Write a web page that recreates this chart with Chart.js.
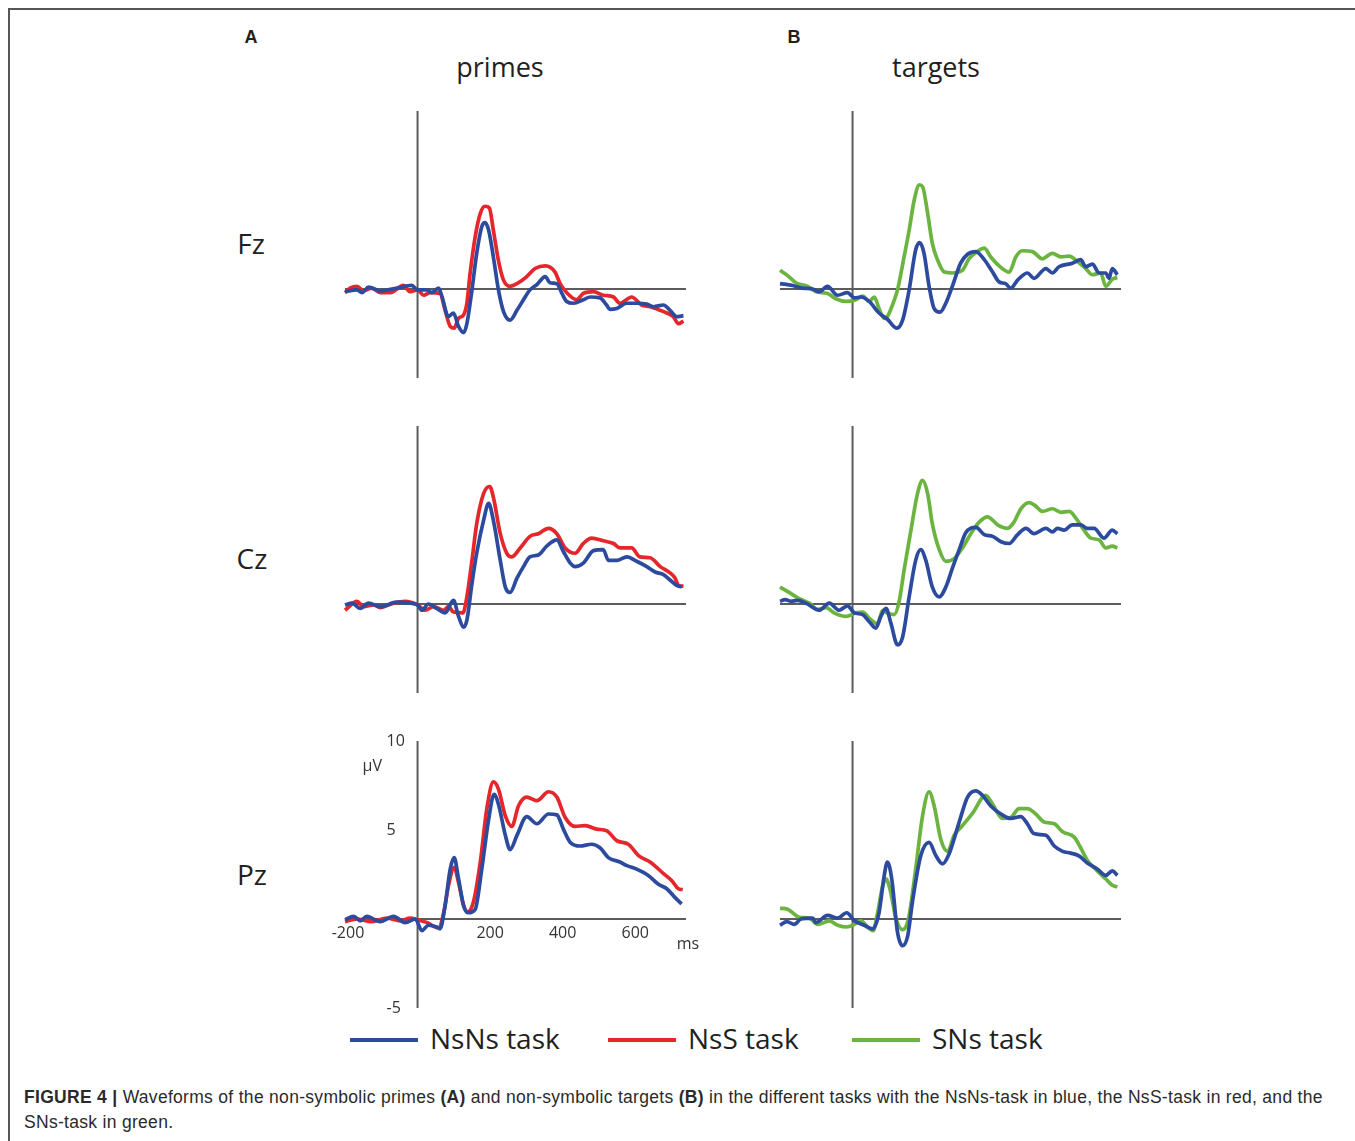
<!DOCTYPE html>
<html lang="en">
<head>
  <meta charset="UTF-8" />
  <title>Figure 4 - waveforms</title>
  <script src="https://cdn.jsdelivr.net/npm/chart.js"></script>
  <style>
    body { margin: 0; background: #fff; width: 1355px; height: 1141px; position: relative; overflow: hidden; font-family: 'Open Sans', 'Noto Sans', sans-serif; color: #231f20; }
    .frame { position: absolute; left: 8px; top: 8px; width: 1400px; height: 1200px; border-top: 2px solid #555; border-left: 2px solid #555; }
    .lbl { position: absolute; transform: translate(-50%, -50%); white-space: nowrap; }
    .panel-letter { font-family: 'Liberation Sans', Arial, sans-serif; font-weight: bold; font-size: 18px; }
    .col-title { font-size: 27px; }
    .row-title { font-size: 28px; }
    canvas { position: absolute; }
    .legend { position: absolute; top: 1018px; left: 0; font-size: 28px; }
    .legend .item { position: absolute; top: 0; white-space: nowrap; height: 40px; line-height: 40px; }
    .legend .swatch { position: absolute; top: 20px; width: 68px; height: 3.5px; }
    .legend .txt { position: absolute; left: 80px; top: 0; }
    .caption { position: absolute; left: 24px; top: 1085px; font-family: 'Liberation Sans', Arial, sans-serif; font-size: 17.5px; line-height: 25px; color: #2a2a2a; white-space: nowrap; letter-spacing: 0.3px; }
  </style>
</head>
<body>
  <div class="frame"></div>

  <div class="lbl panel-letter" style="left:251px; top:37px;">A</div>
  <div class="lbl panel-letter" style="left:794px; top:37px;">B</div>
  <div class="lbl col-title" style="left:500px; top:66px;">primes</div>
  <div class="lbl col-title" style="left:936px; top:66px;">targets</div>
  <div class="lbl row-title" style="left:251px; top:243px;">Fz</div>
  <div class="lbl row-title" style="left:252px; top:558px;">Cz</div>
  <div class="lbl row-title" style="left:252px; top:874px;">Pz</div>

  <canvas id="fz-primes" width="381" height="287" style="left:325px; top:101px;"></canvas>
  <canvas id="fz-targets" width="381" height="287" style="left:760px; top:101px;"></canvas>
  <canvas id="cz-primes" width="381" height="287" style="left:325px; top:416px;"></canvas>
  <canvas id="cz-targets" width="381" height="287" style="left:760px; top:416px;"></canvas>
  <canvas id="pz-primes" width="381" height="287" style="left:325px; top:731px;"></canvas>
  <canvas id="pz-targets" width="381" height="287" style="left:760px; top:731px;"></canvas>

  <div class="legend" id="legend"></div>

  <div class="caption">
    <b>FIGURE 4 |</b> Waveforms of the non-symbolic primes <b>(A)</b> and non-symbolic targets <b>(B)</b> in the different tasks with the NsNs-task in blue, the NsS-task in red, and the<br>SNs-task in green.
  </div>

  <script>
    // [ms, µV] pairs
    const fzPrimesNsNs = [[-200,-0.15],[-167,-0.05],[-153,-0.2],[-135,0.1],[-103,-0.1],[-57,0.05],[-16,0.2],[0,-0.05],[26,-0.05],[39,-0.2],[58,0.05],[67,-0.4],[85,-1.55],[99,-1.35],[113,-2.1],[127,-2.45],[136,-1.95],[150,-0.05],[163,2.0],[177,3.5],[186,3.73],[196,3.3],[209,1.8],[223,-0.05],[237,-1.27],[255,-1.75],[274,-1.2],[292,-0.6],[310,-0.05],[329,0.25],[352,0.7],[365,0.35],[384,0.3],[398,-0.25],[411,-0.7],[430,-0.8],[457,-0.6],[476,-0.45],[503,-0.5],[521,-0.9],[530,-1.15],[549,-1.1],[577,-0.8],[604,-0.8],[632,-0.85],[650,-1.0],[678,-0.9],[696,-1.2],[714,-1.55],[733,-1.5]];
    const fzPrimesNsS = [[-200,-0.2],[-186,0.05],[-167,0.15],[-149,-0.1],[-126,0.05],[-103,-0.2],[-75,-0.2],[-39,0.2],[-20,-0.15],[0,-0.05],[17,-0.35],[35,-0.2],[62,-0.25],[76,-1.2],[90,-2.1],[101,-2.2],[113,-1.65],[127,-1.45],[136,-0.8],[145,0.9],[159,2.95],[173,4.25],[186,4.65],[198,4.55],[209,3.3],[223,1.6],[237,0.5],[255,0.15],[274,0.3],[301,0.7],[324,1.15],[352,1.3],[379,0.95],[393,0.3],[411,-0.2],[439,-0.6],[457,-0.25],[485,-0.15],[512,-0.35],[540,-0.45],[558,-0.8],[590,-0.45],[618,-0.9],[641,-1.0],[669,-1.2],[687,-1.35],[705,-1.55],[719,-1.95],[733,-1.8]];
    const fzTargetsNsNs = [[-200,0.3],[-165,0.2],[-138,0.05],[-110,0],[-92,-0.15],[-69,0.15],[-41,-0.35],[-14,-0.2],[5,-0.5],[23,-0.45],[46,-0.7],[73,-1.35],[96,-1.7],[122,-2.2],[138,-1.75],[156,-0.05],[174,2.2],[185,2.6],[197,2.0],[211,0.15],[225,-1.1],[241,-1.3],[257,-0.8],[275,0.15],[298,1.45],[317,1.95],[340,2.1],[363,1.65],[386,0.95],[404,0.4],[422,0.3],[436,0.05],[455,0.5],[482,0.9],[500,0.6],[533,1.15],[551,0.9],[569,1.25],[606,1.45],[629,1.65],[643,1.25],[661,1.4],[680,0.9],[698,0.9],[707,0.6],[716,1.15],[730,0.8]];
    const fzTargetsSNs = [[-200,1.05],[-179,0.75],[-156,0.35],[-124,0.15],[-101,-0.15],[-69,-0.25],[-46,-0.55],[-18,-0.7],[9,-0.6],[28,-0.4],[46,-0.7],[60,-0.45],[73,-1.1],[87,-1.65],[96,-1.55],[110,-0.9],[124,-0.05],[142,1.8],[156,3.3],[170,5.0],[184,5.85],[193,5.75],[207,4.25],[220,2.55],[234,1.65],[253,0.95],[275,0.9],[303,1.05],[321,1.7],[340,2.05],[363,2.3],[381,1.8],[404,1.3],[432,0.95],[450,1.8],[468,2.15],[496,2.1],[523,1.7],[551,2.0],[574,1.8],[597,1.85],[620,1.55],[643,1.15],[661,0.8],[684,0.9],[698,0.15],[716,0.55],[730,0.65]];

    const czPrimesNsNs = [[-200,-0.05],[-181,0.05],[-158,-0.25],[-135,0.05],[-103,-0.15],[-57,0.1],[-20,0.05],[0,-0.05],[12,-0.35],[30,0],[53,-0.25],[76,-0.5],[99,0.2],[113,-0.7],[127,-1.3],[136,-0.9],[150,1.15],[163,2.85],[182,4.7],[196,5.65],[209,4.7],[228,2.45],[242,0.95],[255,0.65],[274,1.45],[292,2.1],[310,2.65],[333,2.75],[356,3.25],[384,3.6],[402,2.95],[421,2.3],[434,2.1],[457,2.3],[485,3.0],[512,3.05],[526,2.45],[549,2.45],[577,2.65],[604,2.4],[632,2.1],[655,1.8],[678,1.65],[696,1.35],[714,1.05],[728,0.95]];
    const czPrimesNsS = [[-200,-0.35],[-167,0.15],[-149,-0.15],[-121,-0.05],[-103,-0.2],[-66,0.05],[-34,0.15],[0,-0.05],[21,-0.35],[44,-0.15],[72,-0.35],[85,-0.15],[99,-0.45],[125,-0.5],[136,0.4],[150,2.45],[163,4.5],[182,6.2],[199,6.6],[209,6.0],[228,3.95],[246,2.85],[260,2.65],[283,3.15],[310,3.8],[333,3.95],[361,4.25],[384,3.95],[407,3.15],[434,2.85],[457,3.4],[480,3.7],[512,3.55],[540,3.4],[558,3.15],[590,3.15],[613,2.65],[641,2.6],[669,2.1],[696,1.75],[710,1.45],[719,1.05],[733,1.0]];
    const czTargetsNsNs = [[-200,0.15],[-186,0.25],[-170,0.15],[-152,0.2],[-129,0.05],[-92,-0.35],[-64,0.05],[-37,-0.35],[-14,-0.1],[5,-0.5],[28,-0.6],[46,-1.0],[64,-1.35],[78,-0.7],[92,-0.25],[106,-1.1],[124,-2.3],[138,-1.85],[156,0.4],[174,2.45],[188,3.05],[202,2.45],[220,0.95],[239,0.4],[257,0.95],[275,2.0],[294,3.05],[312,4.0],[340,4.3],[363,3.9],[386,3.8],[409,3.5],[432,3.4],[455,3.9],[478,4.25],[500,3.95],[533,4.25],[551,4.05],[565,4.25],[583,4.15],[606,4.45],[629,4.45],[647,4.25],[666,4.25],[693,3.7],[716,4.15],[730,3.95]];
    const czTargetsSNs = [[-200,0.95],[-175,0.65],[-147,0.3],[-119,0.05],[-96,-0.3],[-73,-0.2],[-51,-0.5],[-18,-0.7],[9,-0.5],[28,-0.45],[46,-0.8],[69,-1.1],[83,-0.35],[96,-0.5],[115,-0.6],[129,0.2],[142,1.9],[161,4.15],[179,6.2],[193,6.95],[207,6.2],[220,4.5],[239,3.05],[257,2.4],[280,2.55],[303,3.15],[326,3.95],[349,4.6],[372,4.9],[400,4.45],[427,4.25],[445,4.6],[464,5.35],[487,5.7],[505,5.5],[523,5.2],[551,5.35],[574,5.15],[597,5.2],[620,4.7],[638,4.15],[657,3.7],[680,3.6],[698,3.15],[716,3.25],[730,3.15]];

    const pzPrimesNsNs = [[-200,-0.05],[-176,0.15],[-158,-0.1],[-140,0.15],[-103,-0.15],[-66,0.15],[-34,-0.2],[-6,0],[12,-0.65],[30,-0.35],[53,-0.45],[62,-0.55],[76,0.75],[90,2.8],[101,3.45],[113,2.25],[127,0.75],[140,0.35],[159,0.55],[177,2.8],[196,5.6],[211,7.0],[223,6.45],[242,4.7],[255,3.9],[274,4.7],[301,5.75],[329,5.35],[361,5.9],[384,5.85],[402,5.05],[421,4.3],[448,4.1],[480,4.2],[503,4.0],[526,3.45],[558,3.2],[577,3.0],[604,2.8],[636,2.45],[664,1.95],[687,1.7],[710,1.2],[728,0.85]];
    const pzPrimesNsS = [[-200,-0.15],[-167,0],[-130,-0.15],[-84,0.05],[-48,-0.1],[-20,0.05],[0,-0.05],[26,-0.2],[58,-0.5],[72,0.35],[85,1.85],[101,2.9],[113,2.05],[127,0.75],[138,0.4],[154,0.95],[173,3.2],[191,6.2],[209,7.7],[223,7.3],[242,5.8],[260,5.2],[278,6.35],[301,6.85],[329,6.65],[361,7.15],[384,6.85],[407,5.7],[434,5.2],[462,5.25],[494,5.05],[522,4.95],[549,4.4],[581,4.2],[610,3.55],[641,3.2],[678,2.55],[701,2.15],[719,1.7],[731,1.65]];
    const pzTargetsNsNs = [[-200,-0.35],[-181,-0.15],[-161,-0.3],[-142,0],[-110,0.05],[-101,-0.2],[-69,0.2],[-41,0.05],[-16,0.35],[5,-0.1],[32,-0.35],[55,-0.55],[73,0.35],[87,2.4],[96,3.2],[108,2.25],[124,-0.75],[138,-1.5],[152,-0.95],[165,0.95],[188,3.55],[211,4.3],[230,3.55],[248,3.1],[266,3.65],[294,5.45],[317,6.85],[340,7.2],[358,6.95],[381,6.35],[409,5.9],[436,5.65],[464,5.75],[482,5.35],[500,4.8],[533,4.7],[556,4.1],[579,3.8],[601,3.7],[624,3.55],[647,3.15],[675,2.8],[698,2.45],[716,2.7],[730,2.45]];
    const pzTargetsSNs = [[-200,0.6],[-179,0.55],[-147,0.1],[-119,0.05],[-96,-0.3],[-64,-0.1],[-41,-0.35],[-16,-0.45],[5,-0.3],[23,-0.1],[41,-0.45],[57,-0.65],[69,0.35],[83,1.85],[92,2.25],[103,1.7],[120,0],[138,-0.6],[154,0],[174,2.8],[193,5.8],[211,7.15],[225,6.35],[243,4.5],[262,3.8],[280,4.7],[303,5.25],[331,5.95],[367,6.95],[386,6.45],[413,5.65],[436,5.7],[459,6.2],[482,6.2],[505,5.9],[528,5.45],[556,5.35],[579,4.9],[611,4.6],[629,4.0],[647,3.3],[670,2.8],[698,2.25],[716,1.9],[730,1.8]];

    const taskNames = ['NsNs task', 'NsS task', 'SNs task'];
    const taskColors = ['#2d4b9e', '#e5262b', '#6bb43f'];
    const xTickLabels = [-200, 200, 400, 600];
    const yTickLabels = [10, 5, -5];
    const xRange = [-200, 740];
    const yRange = [-5, 10];

    // zero lines, plus the tick labels on the one panel that has them
    const zeroAxes = {
      id: 'zeroAxes',
      beforeDatasetsDraw(chart, args, opts) {
        const { ctx, chartArea: a, scales: { x, y } } = chart;
        const x0 = x.getPixelForValue(0);
        const y0 = y.getPixelForValue(0);
        ctx.save();
        ctx.strokeStyle = '#5c5c5c';
        ctx.lineWidth = 2;
        ctx.beginPath();
        ctx.moveTo(a.left, y0); ctx.lineTo(a.right, y0);
        ctx.moveTo(x0, a.top); ctx.lineTo(x0, a.bottom);
        ctx.stroke();
        if (opts.ticks) {
          ctx.fillStyle = '#333';
          ctx.font = '16px "Open Sans", sans-serif';
          ctx.textBaseline = 'middle';
          ctx.textAlign = 'center';
          xTickLabels.forEach(v => ctx.fillText(String(v), x.getPixelForValue(v) + (v < 0 ? 3 : 0), y0 + 14));
          ctx.fillText('ms', x.getPixelForValue(xRange[1]) + 2, y0 + 25);
          ctx.textAlign = 'left';
          yTickLabels.forEach(v => ctx.fillText(String(v), x0 - 31, y.getPixelForValue(v)));
          ctx.fillText('µV', x0 - 55, y.getPixelForValue(8.55));
        }
        ctx.restore();
      }
    };

    function makePanel(id, series, colorIdx, showTicks) {
      new Chart(document.getElementById(id), {
        type: 'line',
        data: {
          datasets: series.map((s, i) => ({
            label: taskNames[colorIdx[i]],
            data: s,
            borderColor: taskColors[colorIdx[i]],
            borderWidth: 3.7,
            pointRadius: 0,
            cubicInterpolationMode: 'monotone',
            fill: false,
            clip: false
          }))
        },
        options: {
          responsive: false,
          animation: false,
          events: [],
          layout: { padding: { left: 20, right: 20, top: 10, bottom: 10 } },
          scales: {
            x: { type: 'linear', min: xRange[0], max: xRange[1], display: false },
            y: { type: 'linear', min: yRange[0], max: yRange[1], display: false }
          },
          plugins: {
            legend: { display: false },
            tooltip: { enabled: false },
            zeroAxes: { ticks: showTicks }
          }
        },
        plugins: [zeroAxes]
      });
    }

    makePanel('fz-primes', [fzPrimesNsNs, fzPrimesNsS], [0, 1], false);
    makePanel('fz-targets', [fzTargetsNsNs, fzTargetsSNs], [0, 2], false);
    makePanel('cz-primes', [czPrimesNsNs, czPrimesNsS], [0, 1], false);
    makePanel('cz-targets', [czTargetsNsNs, czTargetsSNs], [0, 2], false);
    makePanel('pz-primes', [pzPrimesNsNs, pzPrimesNsS], [0, 1], true);
    makePanel('pz-targets', [pzTargetsNsNs, pzTargetsSNs], [0, 2], false);

    // legend under the panels
    const legendX = [350, 608, 852];
    const legend = document.getElementById('legend');
    taskNames.forEach((name, i) => {
      const item = document.createElement('div');
      item.className = 'item';
      item.style.left = legendX[i] + 'px';
      item.innerHTML = `<span class="swatch" style="background:${taskColors[i]}"></span><span class="txt">${name}</span>`;
      legend.appendChild(item);
    });
  </script>
</body>
</html>
